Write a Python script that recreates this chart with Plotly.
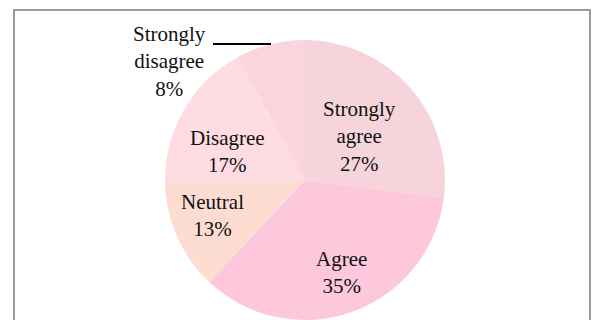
import plotly.graph_objects as go

# Survey response shares (percent)
categories = ["Strongly agree", "Agree", "Neutral", "Disagree", "Strongly disagree"]
shares = [27, 35, 13, 17, 8]
slice_colors = ["#F5D5DB", "#FDC7DC", "#FDDDD2", "#FEDCE1", "#FBD5DD"]

W, H = 594, 320
FONT = "Liberation Serif"

fig = go.Figure(
    go.Pie(
        labels=categories,
        values=shares,
        sort=False,
        direction="clockwise",
        rotation=0,
        marker=dict(colors=slice_colors, line=dict(width=0)),
        textinfo="none",
        hoverinfo="label+percent",
        domain=dict(x=[(305 - 140) / W, (305 + 140) / W], y=[0, 280 / H]),
        showlegend=False,
    )
)

# Label anchors in pixels (centre of the text block)
label_pos = {
    "Strongly agree": (359, 136),
    "Agree": (341, 272),
    "Neutral": (212, 215),
    "Disagree": (228, 151),
    "Strongly disagree": (169, 62),
}

total = sum(shares)
for cat, val in zip(categories, shares):
    pct = round(100 * val / total)
    text = cat.replace(" ", "<br>") + f"<br>{pct}%"
    px, py = label_pos[cat]
    fig.add_annotation(
        x=px / W, y=1 - py / H, xref="paper", yref="paper",
        text=text, showarrow=False, align="center",
        xanchor="center", yanchor="middle",
        font=dict(family=FONT, size=21, color="#111111"),
    )

# Leader line for the small slice
fig.add_shape(type="line", xref="paper", yref="paper",
              x0=213 / W, x1=271 / W, y0=1 - 44 / H, y1=1 - 44 / H,
              line=dict(color="black", width=2))

# Chart frame
fig.add_shape(type="rect", xref="paper", yref="paper",
              x0=14 / W, x1=590 / W, y0=-0.05, y1=1 - 10 / H,
              line=dict(color="#9A9A9A", width=2), fillcolor="rgba(0,0,0,0)")

fig.update_layout(
    width=W, height=H,
    margin=dict(l=0, r=0, t=0, b=0),
    paper_bgcolor="white", plot_bgcolor="white",
)

fig.write_html("out.html")
